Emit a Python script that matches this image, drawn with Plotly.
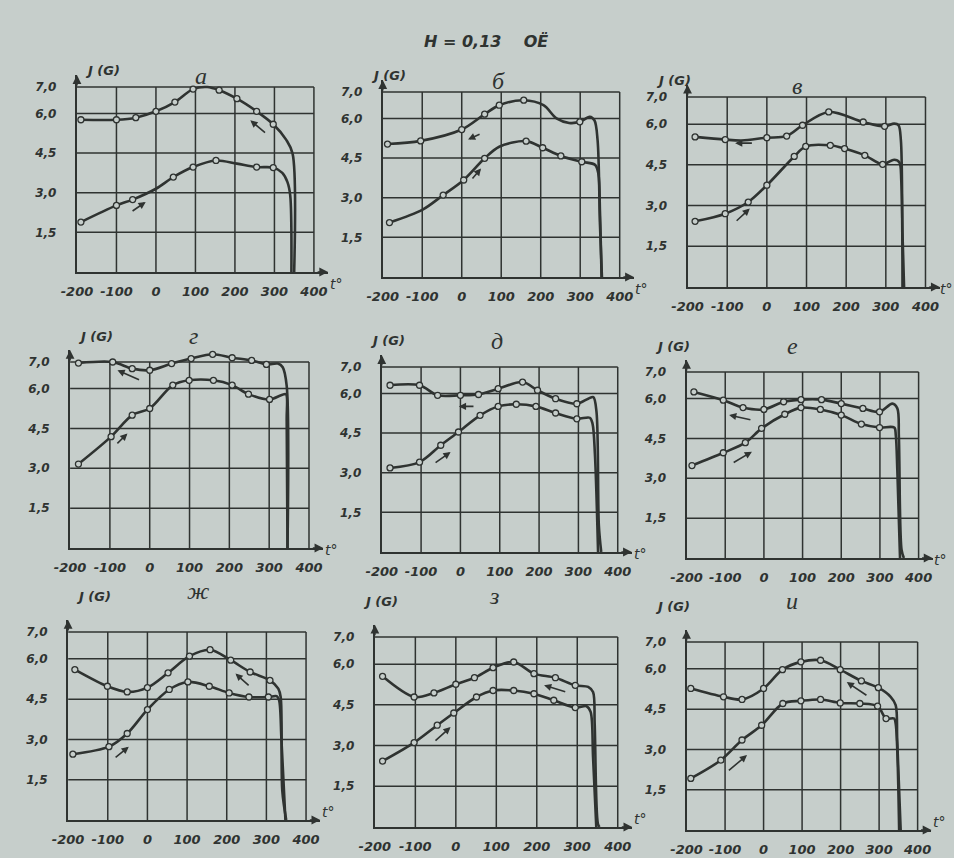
import plotly.graph_objects as go

# ---------------- data: (t °C, J gauss) ----------------
# circles = measured points; *_X = extra points that only shape the curve
HEAT_A = [(-190, 1.89), (-100, 2.52), (-59, 2.74), (44, 3.59), (94, 3.97), (152, 4.22), (255, 3.97), (297, 3.95)]
HEAT_A_X = [(0, 3.15), (205, 4.1), (320, 3.75), (333, 3.4), (340, 2.9), (343, 0.0)]
COOL_A = [(-190, 5.76), (-100, 5.76), (-51, 5.84), (0, 6.08), (48, 6.43), (94, 6.92), (160, 6.88), (205, 6.56), (255, 6.08), (297, 5.59)]
COOL_A_X = [(130, 7.0), (330, 5.0), (346, 4.48), (350, 0.0)]

HEAT_B = [(-183, 2.06), (-47, 3.1), (5, 3.67), (58, 4.49), (163, 5.14), (205, 4.89), (251, 4.58), (304, 4.36)]
HEAT_B_X = [(-99, 2.55), (95, 4.93), (338, 4.24), (346, 3.9), (350, 2.5), (354, 0.0)]
COOL_B = [(-188, 5.03), (-104, 5.15), (0, 5.58), (58, 6.16), (95, 6.5), (157, 6.69), (299, 5.87)]
COOL_B_X = [(207, 6.5), (240, 6.0), (272, 5.83), (324, 6.06), (336, 5.93), (344, 5.18), (350, 2.0), (355, 0.0)]

HEAT_C = [(-181, 2.42), (-105, 2.70), (-47, 3.13), (0, 3.75), (69, 4.81), (98, 5.18), (160, 5.22), (196, 5.10), (247, 4.85), (292, 4.52)]
HEAT_C_X = [(321, 4.69), (334, 4.6), (339, 3.9), (342, 0.0)]
COOL_C = [(-181, 5.53), (-105, 5.43), (0, 5.50), (50, 5.56), (90, 5.96), (156, 6.45), (243, 6.08), (297, 5.92)]
COOL_C_X = [(-63, 5.40), (321, 6.02), (332, 5.96), (338, 5.4), (342, 2.0), (346, 0.0)]

HEAT_D = [(-179, 3.16), (-97, 4.19), (-44, 5.0), (0, 5.25), (58, 6.13), (99, 6.31), (160, 6.31), (207, 6.13), (248, 5.79), (301, 5.59)]
HEAT_D_X = [(330, 5.75), (342, 5.79), (344, 4.8), (346, 0.0)]
COOL_D = [(-179, 6.96), (-93, 7.0), (-44, 6.75), (0, 6.69), (55, 6.94), (104, 7.13), (158, 7.29), (207, 7.16), (256, 7.06), (293, 6.91)]
COOL_D_X = [(322, 6.94), (334, 6.8), (344, 6.1), (346, 0.0)]

HEAT_E = [(-179, 3.18), (-104, 3.40), (-50, 4.04), (-5, 4.54), (50, 5.17), (96, 5.51), (142, 5.59), (192, 5.51), (242, 5.26), (296, 5.04)]
HEAT_E_X = [(329, 5.08), (336, 4.85), (342, 3.7), (350, 0.0)]
COOL_E = [(-179, 6.31), (-104, 6.31), (-58, 5.93), (0, 5.93), (46, 5.96), (96, 6.18), (158, 6.43), (196, 6.12), (242, 5.80), (296, 5.61)]
COOL_E_X = [(325, 5.80), (338, 5.86), (346, 5.3), (352, 1.0), (358, 0.0)]

HEAT_F = [(-186, 3.48), (-105, 3.96), (-48, 4.34), (-6, 4.88), (54, 5.41), (96, 5.66), (146, 5.59), (200, 5.38), (252, 5.04), (299, 4.91)]
HEAT_F_X = [(337, 4.91), (341, 4.63), (345, 3.3), (352, 0.0)]
COOL_F = [(-181, 6.25), (-105, 5.94), (-54, 5.66), (0, 5.59), (51, 5.88), (96, 5.96), (149, 5.96), (200, 5.81), (256, 5.63), (299, 5.5)]
COOL_F_X = [(332, 5.81), (345, 5.63), (349, 4.56), (356, 0.3), (362, 0.0)]

HEAT_G = [(-188, 2.45), (-97, 2.73), (-51, 3.22), (0, 4.11), (55, 4.86), (102, 5.14), (156, 4.98), (206, 4.73), (256, 4.58), (305, 4.58)]
HEAT_G_X = [(326, 4.61), (332, 4.46), (338, 2.97), (348, 0.0)]
COOL_G = [(-183, 5.6), (-101, 4.98), (-51, 4.77), (0, 4.93), (52, 5.48), (106, 6.1), (158, 6.34), (210, 5.95), (259, 5.51), (309, 5.2)]
COOL_G_X = [(330, 4.89), (336, 4.58), (340, 1.1), (350, 0.0)]

HEAT_H = [(-181, 2.43), (-103, 3.11), (-46, 3.75), (-5, 4.2), (51, 4.79), (92, 5.03), (143, 5.03), (193, 4.91), (242, 4.67), (295, 4.4)]
HEAT_H_X = [(323, 4.45), (333, 4.24), (339, 2.58), (347, 0.0)]
COOL_H = [(-181, 5.55), (-103, 4.79), (-54, 4.94), (0, 5.26), (46, 5.5), (92, 5.87), (143, 6.08), (193, 5.65), (246, 5.5), (295, 5.22)]
COOL_H_X = [(327, 5.16), (339, 4.97), (343, 3.81), (351, 0.12), (355, 0.0)]

HEAT_I = [(-189, 1.92), (-111, 2.6), (-56, 3.35), (-5, 3.9), (50, 4.71), (97, 4.81), (148, 4.86), (199, 4.73), (250, 4.71), (296, 4.61), (318, 4.15)]
HEAT_I_X = [(339, 4.15), (343, 3.96), (352, 0.0)]
COOL_I = [(-189, 5.27), (-104, 4.96), (-56, 4.86), (0, 5.27), (49, 5.97), (97, 6.26), (148, 6.32), (199, 5.97), (254, 5.55), (298, 5.3)]
COOL_I_X = [(330, 4.96), (343, 4.65), (347, 3.35), (356, 0.0)]

PANEL_LABELS = ["а", "б", "в", "г", "д", "е", "ж", "з", "и"]
X_TICKS = [-200, -100, 0, 100, 200, 300, 400]
X_TICK_TEXT = ["-200", "-100", "0", "100", "200", "300", "400"]
Y_TICKS = [1.5, 3.0, 4.5, 6.0, 7.0]
Y_TICK_TEXT = ["1,5", "3,0", "4,5", "6,0", "7,0"]

# direction arrows (tail t, tail J, head t, head J): heating / cooling
ARROWS = [
    [(-63, 2.27, -26, 2.65), (280, 5.23, 239, 5.74)],
    [(24, 3.67, 49, 4.11), (49, 5.43, 16, 5.2)],
    [(-80, 2.39, -43, 2.89), (-34, 5.3, -80, 5.3)],
    [(-85, 3.88, -56, 4.31), (-23, 6.31, -81, 6.69)],
    [(-67, 3.34, -25, 3.78), (37, 5.51, -4, 5.51)],
    [(-82, 3.56, -31, 4.0), (-31, 5.19, -90, 5.38)],
    [(-84, 2.29, -47, 2.73), (259, 4.96, 222, 5.45)],
    [(-54, 3.13, -13, 3.68), (274, 4.97, 218, 5.22)],
    [(-94, 2.17, -43, 2.79), (271, 4.98, 216, 5.51)],
]

HEATS = [(HEAT_A, HEAT_A_X), (HEAT_B, HEAT_B_X), (HEAT_C, HEAT_C_X), (HEAT_D, HEAT_D_X), (HEAT_E, HEAT_E_X),
         (HEAT_F, HEAT_F_X), (HEAT_G, HEAT_G_X), (HEAT_H, HEAT_H_X), (HEAT_I, HEAT_I_X)]
COOLS = [(COOL_A, COOL_A_X), (COOL_B, COOL_B_X), (COOL_C, COOL_C_X), (COOL_D, COOL_D_X), (COOL_E, COOL_E_X),
         (COOL_F, COOL_F_X), (COOL_G, COOL_G_X), (COOL_H, COOL_H_X), (COOL_I, COOL_I_X)]

# ---------------- layout (pixel frames of each panel: left, right, top, bottom) ----------------
BOXES = [(62, 303, 87, 272), (373, 614, 92, 277), (683, 925, 97, 287),
         (55, 298, 362, 548), (372, 612, 367, 552), (682, 918, 372, 558),
         (53, 295, 632, 820), (365, 612, 637, 827), (682, 917, 642, 830)]

BG = "#c6cecb"
INK = "#2f3331"
W, H = 954, 858
XMAX, YMAX = 436, 7.45

fig = go.Figure()
shapes, annotations = [], []
layout = dict(width=W, height=H, margin=dict(l=0, r=0, t=0, b=0),
              paper_bgcolor=BG, plot_bgcolor=BG, showlegend=False)

tick_font = dict(family="DejaVu Sans", size=12, color=INK, style="italic", weight="bold")


def px(xp):
    return xp / W


def py(yp):
    return 1 - yp / H


for i, (L, R, T, B) in enumerate(BOXES):
    n = i + 1
    xa = "x" if n == 1 else f"x{n}"
    ya = "y" if n == 1 else f"y{n}"
    ux = (R - L) / 600.0
    uy = (B - T) / 7.0
    layout["xaxis" if n == 1 else f"xaxis{n}"] = dict(
        range=[-200, XMAX], domain=[px(L), px(L + ux * (XMAX + 200))], anchor=ya,
        tickvals=X_TICKS, ticktext=X_TICK_TEXT, tickfont=dict(tick_font, size=13),
        showgrid=False, zeroline=False, showline=True, linecolor=INK, linewidth=2.2,
        ticks="", ticklabelstandoff=6, fixedrange=True)
    layout["yaxis" if n == 1 else f"yaxis{n}"] = dict(
        range=[0, YMAX], domain=[py(B), py(B - uy * YMAX)], anchor=xa,
        tickvals=Y_TICKS, ticktext=Y_TICK_TEXT, tickfont=tick_font,
        showgrid=False, zeroline=False, showline=True, linecolor=INK, linewidth=2.2,
        ticks="", ticklabelstandoff=16, fixedrange=True)

    # grid box
    for t in X_TICKS[1:]:
        shapes.append(dict(type="line", xref=xa, yref=ya, x0=t, x1=t, y0=0, y1=7.0,
                           line=dict(color=INK, width=1.5), layer="below"))
    for j in Y_TICKS:
        shapes.append(dict(type="line", xref=xa, yref=ya, x0=-200, x1=400, y0=j, y1=j,
                           line=dict(color=INK, width=1.5), layer="below"))

    # curves
    for pts, extra in (HEATS[i], COOLS[i]):
        line_pts = sorted(pts + extra)
        fig.add_trace(go.Scatter(x=[p[0] for p in line_pts], y=[p[1] for p in line_pts],
                                 mode="lines", xaxis=xa, yaxis=ya, hoverinfo="skip",
                                 line=dict(color=INK, width=2.6, shape="spline", smoothing=0.9)))
        fig.add_trace(go.Scatter(x=[p[0] for p in pts], y=[p[1] for p in pts],
                                 mode="markers", xaxis=xa, yaxis=ya,
                                 marker=dict(symbol="circle", size=6, color=BG,
                                             line=dict(color=INK, width=1.3))))

    # axis arrowheads
    annotations.append(dict(x=XMAX, y=0, xref=xa, yref=ya, ax=-12, ay=0, text="",
                            showarrow=True, arrowhead=2, arrowsize=1.1, arrowwidth=1.6, arrowcolor=INK))
    annotations.append(dict(x=-200, y=YMAX, xref=xa, yref=ya, ax=0, ay=12, text="",
                            showarrow=True, arrowhead=2, arrowsize=1.1, arrowwidth=1.6, arrowcolor=INK))
    # direction arrows
    for (x0, y0, x1, y1) in ARROWS[i]:
        annotations.append(dict(x=x1, y=y1, ax=x0, ay=y0, xref=xa, yref=ya, axref=xa, ayref=ya,
                                text="", showarrow=True, arrowhead=2, arrowsize=0.9,
                                arrowwidth=1.6, arrowcolor=INK))
    # labels
    annotations.append(dict(x=px(L + 6), y=py(T - 26), xref="paper", yref="paper",
                            text="J (G)", showarrow=False,
                            font=dict(family="DejaVu Sans", size=13, color=INK, style="italic", weight="bold")))
    annotations.append(dict(x=px(L + (R - L) * 0.49), y=py(T - 26), xref="paper", yref="paper",
                            text=PANEL_LABELS[i], showarrow=False,
                            font=dict(family="Liberation Serif", size=24, color=INK, style="italic")))
    annotations.append(dict(x=px(min(R + 14, 938)), y=py(B + 2), xref="paper", yref="paper",
                            xanchor="left", text="t°", showarrow=False,
                            font=dict(family="DejaVu Sans", size=14, color=INK, style="italic")))

annotations.append(dict(x=px(478), y=py(30), xref="paper", yref="paper",
                        text="H = 0,13    ОЁ", showarrow=False,
                        font=dict(family="DejaVu Sans", size=16, color=INK, style="italic", weight="bold")))

layout["shapes"] = shapes
layout["annotations"] = annotations
fig.update_layout(**layout)
fig.write_html(
    "out.html",
    config={"displayModeBar": False},
    post_script="document.body.style.margin='0';document.body.style.background='{BG}';"
                "document.documentElement.style.background='{BG}';".replace("{BG}", BG),
)
